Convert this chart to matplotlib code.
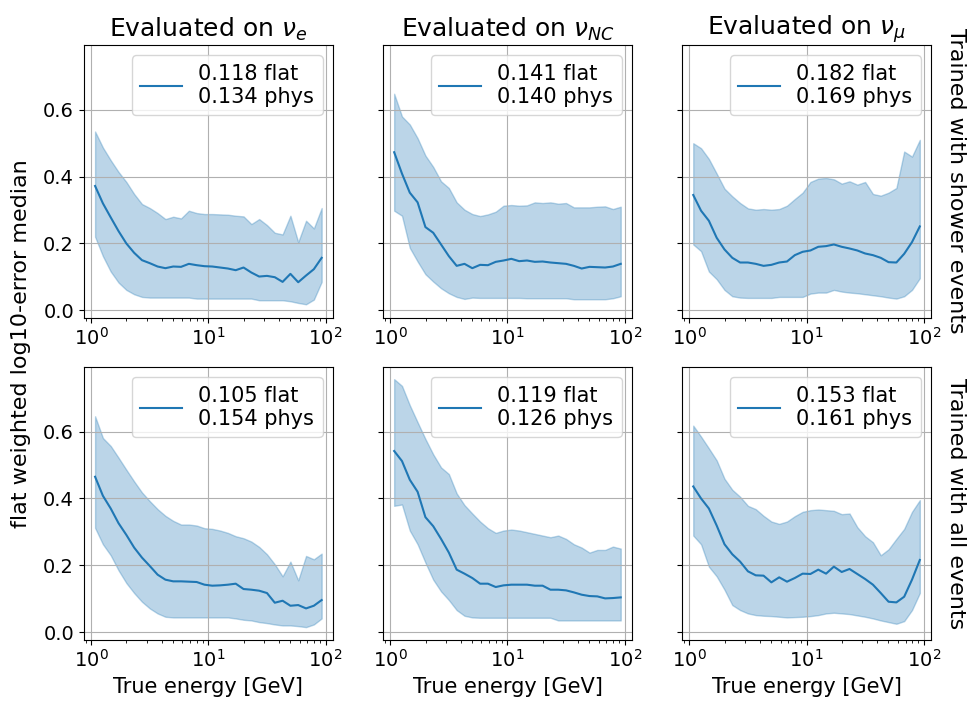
import numpy as np
import matplotlib
matplotlib.use("Agg")
import matplotlib.pyplot as plt

# Energy binning: 30 logarithmic bins between 1 and 100 GeV
bin_edges = np.logspace(0, 2, 31)
energy = np.sqrt(bin_edges[:-1] * bin_edges[1:])

flavours = [r"$\nu_e$", r"$\nu_{NC}$", r"$\nu_\mu$"]
training_sets = ["Trained with shower events", "Trained with all events"]

# --- trained with shower events -------------------------------------------
shower_nue_med = [0.372, 0.320, 0.278, 0.237, 0.200, 0.172, 0.150, 0.141, 0.131, 0.126,
                  0.131, 0.130, 0.139, 0.135, 0.132, 0.131, 0.128, 0.125, 0.120, 0.128,
                  0.113, 0.101, 0.103, 0.099, 0.085, 0.109, 0.084, 0.104, 0.123, 0.157]
shower_nue_lo = [0.220, 0.162, 0.116, 0.083, 0.061, 0.048, 0.040, 0.038, 0.038, 0.038,
                 0.038, 0.038, 0.038, 0.035, 0.035, 0.035, 0.035, 0.035, 0.035, 0.035,
                 0.035, 0.030, 0.030, 0.030, 0.030, 0.027, 0.022, 0.018, 0.032, 0.085]
shower_nue_hi = [0.535, 0.487, 0.449, 0.414, 0.384, 0.348, 0.318, 0.306, 0.291, 0.273,
                 0.280, 0.275, 0.298, 0.291, 0.288, 0.288, 0.287, 0.286, 0.283, 0.281,
                 0.258, 0.273, 0.255, 0.232, 0.227, 0.283, 0.204, 0.268, 0.245, 0.306]

shower_nnc_med = [0.473, 0.409, 0.352, 0.323, 0.249, 0.232, 0.197, 0.162, 0.133, 0.139,
                  0.126, 0.136, 0.135, 0.145, 0.149, 0.154, 0.147, 0.149, 0.145, 0.146,
                  0.143, 0.141, 0.139, 0.133, 0.125, 0.130, 0.129, 0.128, 0.131, 0.139]
shower_nnc_lo = [0.298, 0.283, 0.187, 0.146, 0.108, 0.086, 0.066, 0.051, 0.040, 0.034,
                 0.038, 0.037, 0.037, 0.037, 0.037, 0.037, 0.037, 0.036, 0.036, 0.036,
                 0.036, 0.036, 0.036, 0.033, 0.033, 0.033, 0.033, 0.033, 0.036, 0.042]
shower_nnc_hi = [0.648, 0.580, 0.556, 0.515, 0.463, 0.429, 0.386, 0.366, 0.323, 0.301,
                 0.288, 0.282, 0.287, 0.295, 0.313, 0.315, 0.313, 0.314, 0.323, 0.321,
                 0.323, 0.319, 0.321, 0.308, 0.308, 0.308, 0.310, 0.311, 0.303, 0.310]

shower_nmu_med = [0.345, 0.298, 0.268, 0.217, 0.182, 0.157, 0.143, 0.143, 0.139, 0.133,
                  0.136, 0.143, 0.146, 0.165, 0.175, 0.179, 0.190, 0.192, 0.197, 0.190,
                  0.185, 0.179, 0.170, 0.165, 0.157, 0.144, 0.143, 0.169, 0.204, 0.251]
shower_nmu_lo = [0.197, 0.177, 0.116, 0.093, 0.061, 0.042, 0.038, 0.037, 0.037, 0.037,
                 0.037, 0.040, 0.040, 0.040, 0.040, 0.050, 0.053, 0.053, 0.061, 0.056,
                 0.053, 0.051, 0.048, 0.045, 0.042, 0.038, 0.035, 0.042, 0.061, 0.096]
shower_nmu_hi = [0.500, 0.485, 0.453, 0.409, 0.364, 0.341, 0.321, 0.305, 0.301, 0.303,
                 0.301, 0.303, 0.313, 0.333, 0.352, 0.384, 0.394, 0.396, 0.392, 0.379,
                 0.386, 0.376, 0.384, 0.348, 0.343, 0.352, 0.366, 0.475, 0.460, 0.510]

# --- trained with all events ----------------------------------------------
all_nue_med = [0.465, 0.408, 0.370, 0.326, 0.291, 0.253, 0.223, 0.198, 0.172, 0.157,
               0.152, 0.152, 0.151, 0.150, 0.142, 0.139, 0.140, 0.142, 0.145, 0.129,
               0.127, 0.124, 0.117, 0.088, 0.094, 0.079, 0.081, 0.071, 0.079, 0.096]
all_nue_lo = [0.312, 0.263, 0.230, 0.185, 0.147, 0.117, 0.091, 0.071, 0.056, 0.046,
              0.044, 0.044, 0.044, 0.044, 0.044, 0.044, 0.044, 0.044, 0.041, 0.037,
              0.035, 0.030, 0.027, 0.023, 0.020, 0.020, 0.018, 0.015, 0.023, 0.041]
all_nue_hi = [0.646, 0.581, 0.557, 0.522, 0.486, 0.451, 0.418, 0.392, 0.368, 0.348,
              0.333, 0.322, 0.322, 0.319, 0.311, 0.309, 0.304, 0.297, 0.287, 0.281,
              0.271, 0.255, 0.233, 0.203, 0.167, 0.211, 0.155, 0.228, 0.218, 0.235]

all_nnc_med = [0.542, 0.512, 0.456, 0.420, 0.344, 0.317, 0.279, 0.238, 0.187, 0.175,
               0.162, 0.145, 0.145, 0.135, 0.140, 0.142, 0.142, 0.142, 0.139, 0.139,
               0.127, 0.127, 0.125, 0.119, 0.112, 0.108, 0.107, 0.101, 0.102, 0.104]
all_nnc_lo = [0.378, 0.382, 0.304, 0.263, 0.208, 0.157, 0.122, 0.096, 0.066, 0.049,
              0.044, 0.043, 0.043, 0.043, 0.043, 0.043, 0.043, 0.043, 0.043, 0.043,
              0.043, 0.035, 0.035, 0.035, 0.035, 0.035, 0.035, 0.035, 0.035, 0.035]
all_nnc_hi = [0.757, 0.737, 0.679, 0.628, 0.578, 0.532, 0.493, 0.473, 0.415, 0.380,
              0.355, 0.331, 0.311, 0.297, 0.304, 0.307, 0.304, 0.299, 0.294, 0.289,
              0.284, 0.289, 0.279, 0.263, 0.253, 0.238, 0.246, 0.246, 0.256, 0.250]

all_nmu_med = [0.436, 0.400, 0.370, 0.319, 0.263, 0.233, 0.211, 0.182, 0.170, 0.169,
               0.149, 0.164, 0.151, 0.162, 0.175, 0.174, 0.187, 0.175, 0.196, 0.180,
               0.189, 0.174, 0.159, 0.142, 0.117, 0.091, 0.089, 0.106, 0.157, 0.216]
all_nmu_lo = [0.289, 0.263, 0.196, 0.167, 0.127, 0.081, 0.066, 0.056, 0.051, 0.049,
              0.048, 0.046, 0.044, 0.045, 0.046, 0.048, 0.051, 0.056, 0.058, 0.056,
              0.054, 0.050, 0.046, 0.041, 0.035, 0.030, 0.025, 0.033, 0.066, 0.117]
all_nmu_hi = [0.618, 0.585, 0.550, 0.514, 0.459, 0.426, 0.405, 0.378, 0.368, 0.348,
              0.331, 0.324, 0.331, 0.347, 0.360, 0.365, 0.367, 0.365, 0.363, 0.353,
              0.355, 0.314, 0.287, 0.269, 0.230, 0.248, 0.279, 0.309, 0.360, 0.395]

# Overall flat / physics-weighted medians shown in the legends
flat_scores = [[0.118, 0.141, 0.182], [0.105, 0.119, 0.153]]
phys_scores = [[0.134, 0.140, 0.169], [0.154, 0.126, 0.161]]

medians = [[shower_nue_med, shower_nnc_med, shower_nmu_med],
           [all_nue_med, all_nnc_med, all_nmu_med]]
lowers = [[shower_nue_lo, shower_nnc_lo, shower_nmu_lo],
          [all_nue_lo, all_nnc_lo, all_nmu_lo]]
uppers = [[shower_nue_hi, shower_nnc_hi, shower_nmu_hi],
          [all_nue_hi, all_nnc_hi, all_nmu_hi]]

plt.rcParams.update({"font.size": 14})
fig = plt.figure(figsize=(9.74, 7.02), dpi=100)
axes = fig.subplots(2, 3, sharey=True)
fig.subplots_adjust(left=0.086, right=0.956, top=0.936, bottom=0.089,
                    wspace=0.2, hspace=0.18)

for r in range(2):
    for c in range(3):
        ax = axes[r, c]
        label = f"{flat_scores[r][c]:.3f} flat\n{phys_scores[r][c]:.3f} phys"
        ax.plot(energy, medians[r][c], color="tab:blue", label=label)
        ax.fill_between(energy, lowers[r][c], uppers[r][c], color="tab:blue", alpha=0.3)
        ax.set_xscale("log")
        ax.grid(True)
        ax.legend(loc="upper right", fontsize=15)
        if r == 0:
            ax.set_title("Evaluated on " + flavours[c], fontsize=18)
        else:
            ax.set_xlabel("True energy [GeV]", fontsize=15)
        if c == 2:
            ax.text(1.1, 0.5, training_sets[r], transform=ax.transAxes,
                    rotation=270, ha="center", va="center", fontsize=16)

axes[0, 0].set_yticks([0.0, 0.2, 0.4, 0.6])
fig.text(0.022, 0.51, "flat weighted log10-error median", rotation=90,
         ha="center", va="center", fontsize=16)

fig.savefig("out.png", dpi=100)
